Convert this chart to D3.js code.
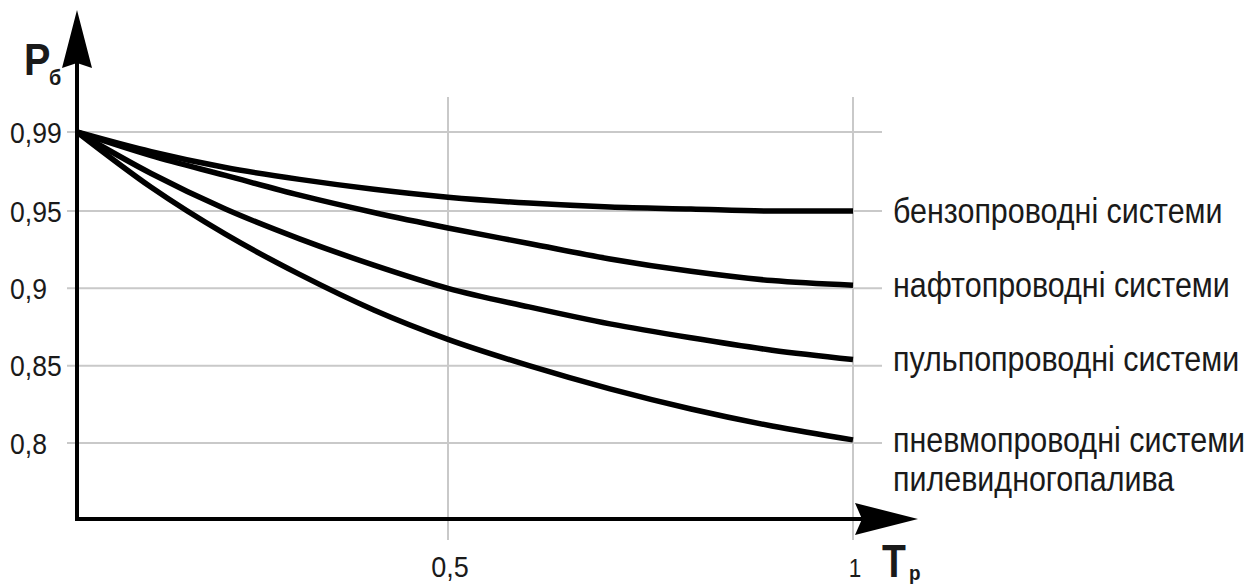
<!DOCTYPE html>
<html>
<head>
<meta charset="utf-8">
<script src="https://cdn.jsdelivr.net/npm/d3@7/dist/d3.min.js"></script>
<style>
  html, body { margin: 0; padding: 0; background: #fff; }
  svg { display: block; }
  text { font-family: "Liberation Sans", Arial, sans-serif; fill: #1a1a1a; }
</style>
</head>
<body>
<svg id="chart" width="1258" height="587"></svg>
<script>
// Operating time (fraction of the design period) and reliability per pipeline type
const tValues = [0, 0.1, 0.2, 0.3, 0.4, 0.5, 0.6, 0.7, 0.8, 0.9, 1.0];
const petrol   = [0.99, 0.980, 0.972, 0.966, 0.961, 0.957, 0.954, 0.952, 0.951, 0.950, 0.950];
const oil      = [0.99, 0.978, 0.968, 0.958, 0.949, 0.939, 0.929, 0.919, 0.911, 0.905, 0.902];
const slurry   = [0.99, 0.969, 0.951, 0.932, 0.915, 0.900, 0.888, 0.877, 0.868, 0.860, 0.854];
const pneumo   = [0.99, 0.962, 0.935, 0.909, 0.886, 0.867, 0.850, 0.835, 0.822, 0.811, 0.802];

const seriesNames = [
  ["бензопроводні системи"],
  ["нафтопроводні системи"],
  ["пульпопроводні системи"],
  ["пневмопроводні системи", "пилевидногопалива"]
];
const seriesValues = [petrol, oil, slurry, pneumo];

const yTicks = [0.99, 0.95, 0.9, 0.85, 0.8];
const yTickLabels = ["0,99", "0,95", "0,9", "0,85", "0,8"];
const xTicks = [0.5, 1];
const xTickLabels = ["0,5", "1"];

const svg = d3.select("#chart");

// Axis scales (the scale is stretched near the top so 0.99 sits one step above 0.95)
const x = d3.scaleLinear().domain([0, 0.5, 1]).range([77, 448, 853]);
const y = d3.scaleLinear().domain([0.8, 0.95, 0.99]).range([443, 211, 132]);

const gridColor = "#c9c9c9";

// Horizontal grid lines
svg.append("g").selectAll("line").data(yTicks).join("line")
  .attr("x1", 67).attr("x2", 882)
  .attr("y1", d => y(d)).attr("y2", d => y(d))
  .attr("stroke", gridColor).attr("stroke-width", 2);

// Vertical grid lines
svg.append("g").selectAll("line").data(xTicks).join("line")
  .attr("x1", d => x(d)).attr("x2", d => x(d))
  .attr("y1", 97).attr("y2", 540)
  .attr("stroke", gridColor).attr("stroke-width", 2);

// Y tick labels
svg.append("g").selectAll("text").data(yTicks).join("text")
  .attr("transform", d => `translate(10,${y(d) + 10.5}) scale(0.9,1)`)
  .attr("font-size", 29.5)
  .attr("fill", "#262626")
  .text((d, i) => yTickLabels[i]);

// X tick labels
svg.append("g").selectAll("text").data(xTicks).join("text")
  .attr("transform", d => `translate(${x(d) + 2},577) scale(0.9,1)`)
  .attr("text-anchor", "middle")
  .attr("font-size", (d, i) => i === 0 ? 30 : 25)
  .attr("fill", "#262626")
  .text((d, i) => xTickLabels[i]);

// Curves
const line = d3.line()
  .x((d, i) => x(tValues[i]))
  .y(d => y(d))
  .curve(d3.curveMonotoneX);

svg.append("g").selectAll("path").data(seriesValues).join("path")
  .attr("d", line)
  .attr("fill", "none")
  .attr("stroke", "#000")
  .attr("stroke-width", 5.5)
  .attr("stroke-linejoin", "round");

// Axes
const x0 = x(0), yBase = 519;
svg.append("line")
  .attr("x1", x0).attr("x2", x0).attr("y1", 60).attr("y2", yBase + 2)
  .attr("stroke", "#000").attr("stroke-width", 4);
svg.append("line")
  .attr("x1", x0 - 2).attr("x2", 862).attr("y1", yBase).attr("y2", yBase)
  .attr("stroke", "#000").attr("stroke-width", 4);

// Arrow heads
svg.append("path")
  .attr("d", `M${x0},10 L${x0 + 15},68 L${x0},63 L${x0 - 15},68 Z`)
  .attr("fill", "#000");
svg.append("path")
  .attr("d", `M918,${yBase} L855,${yBase - 16} L862,${yBase} L855,${yBase + 16} Z`)
  .attr("fill", "#000");

// Axis titles
svg.append("text")
  .attr("transform", "translate(24,75) scale(0.9,1)")
  .attr("font-size", 44).attr("font-weight", "bold").attr("fill", "#111")
  .text("P");
svg.append("text")
  .attr("transform", "translate(49,85) scale(0.9,1)")
  .attr("font-size", 22).attr("font-weight", "bold").attr("fill", "#111")
  .text("б");

svg.append("text")
  .attr("transform", "translate(882,577) scale(0.85,1)")
  .attr("font-size", 46).attr("font-weight", "bold").attr("fill", "#111")
  .text("T");
svg.append("text")
  .attr("transform", "translate(909,580) scale(0.9,1)")
  .attr("font-size", 21).attr("font-weight", "bold").attr("fill", "#111")
  .text("р");

// Series labels at the right end of each curve
const labels = svg.append("g").selectAll("text").data(seriesValues).join("text")
  .attr("transform", d => `translate(893,${y(d[d.length - 1]) + 12}) scale(0.87,1)`)
  .attr("font-size", 35)
  .attr("fill", "#111");
labels.selectAll("tspan").data((d, i) => seriesNames[i]).join("tspan")
  .attr("x", 0)
  .attr("dy", (d, i) => i === 0 ? 0 : 39)
  .text(d => d);
</script>
</body>
</html>
